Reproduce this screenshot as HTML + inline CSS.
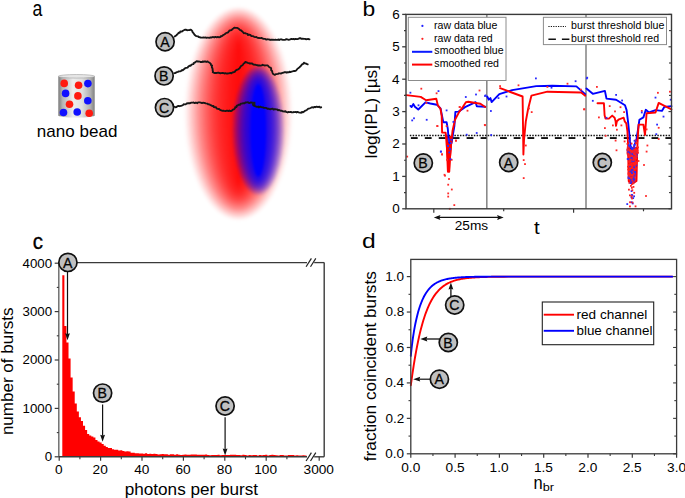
<!DOCTYPE html>
<html><head><meta charset="utf-8"><title>figure</title>
<style>
html,body{margin:0;padding:0;background:#fff;}
body{width:685px;height:498px;overflow:hidden;position:relative;font-family:"Liberation Sans",sans-serif;}
svg{position:absolute;left:0;top:0;font-family:"Liberation Sans",sans-serif;}
</style></head><body>
<svg width="685" height="498" viewBox="0 0 685 498">
<text x="32.39" y="16.10" font-size="21.5" fill="#000"  textLength="9.83" lengthAdjust="spacingAndGlyphs">a</text>
<defs>
<linearGradient id="cyl" x1="0" x2="1" y1="0" y2="0">
<stop offset="0" stop-color="#7a7a7a"/><stop offset="0.12" stop-color="#b5b5b5"/><stop offset="0.4" stop-color="#ededed"/>
<stop offset="0.65" stop-color="#e0e0e0"/><stop offset="0.88" stop-color="#b0b0b0"/><stop offset="1" stop-color="#808080"/></linearGradient>
<filter id="bl1" x="-20%" y="-20%" width="140%" height="140%"><feGaussianBlur stdDeviation="1.2"/></filter>
<filter id="bl2" x="-20%" y="-20%" width="140%" height="140%"><feGaussianBlur stdDeviation="1.0"/></filter>
</defs>
<path d="M58.3,76.3 L58.3,115.6 A18.2,1.9 0 0 0 94.7,115.6 L94.7,76.3 Z" fill="url(#cyl)"/>
<ellipse cx="76.5" cy="76.3" rx="18.2" ry="1.8" fill="#e6e6e6" stroke="#a0a0a0" stroke-width="0.6"/>
<circle cx="64.2" cy="83.4" r="3.8" fill="#ff1a10"/>
<circle cx="78.6" cy="85.3" r="3.8" fill="#ff1a10"/>
<circle cx="77.9" cy="95.9" r="3.8" fill="#ff1a10"/>
<circle cx="69.5" cy="104.3" r="3.8" fill="#ff1a10"/>
<circle cx="89.2" cy="113.2" r="3.8" fill="#ff1a10"/>
<circle cx="87.9" cy="83.6" r="3.8" fill="#1010ff"/>
<circle cx="65.6" cy="93.4" r="3.8" fill="#1010ff"/>
<circle cx="87.8" cy="100.7" r="3.8" fill="#1010ff"/>
<circle cx="63.5" cy="112.5" r="3.8" fill="#1010ff"/>
<circle cx="77.2" cy="112" r="3.8" fill="#1010ff"/>
<text x="36.89" y="136.50" font-size="17" fill="#000"  textLength="80.55" lengthAdjust="spacingAndGlyphs">nano bead</text>
<g filter="url(#bl1)"><ellipse cx="238.5" cy="113.5" rx="55.50" ry="108.00" fill="#ff0000" fill-opacity="0.0173"/><ellipse cx="238.5" cy="113.5" rx="52.90" ry="106.00" fill="#ff0000" fill-opacity="0.0619"/><ellipse cx="238.5" cy="113.5" rx="50.30" ry="104.00" fill="#ff0000" fill-opacity="0.0815"/><ellipse cx="238.5" cy="113.5" rx="47.70" ry="102.00" fill="#ff0000" fill-opacity="0.0953"/><ellipse cx="238.5" cy="113.5" rx="45.10" ry="100.00" fill="#ff0000" fill-opacity="0.1063"/><ellipse cx="238.5" cy="113.5" rx="42.50" ry="98.00" fill="#ff0000" fill-opacity="0.1157"/><ellipse cx="238.5" cy="113.5" rx="39.90" ry="96.00" fill="#ff0000" fill-opacity="0.1239"/><ellipse cx="238.5" cy="113.5" rx="37.30" ry="94.00" fill="#ff0000" fill-opacity="0.1312"/><ellipse cx="238.5" cy="113.5" rx="34.70" ry="92.00" fill="#ff0000" fill-opacity="0.1379"/><ellipse cx="238.5" cy="113.5" rx="32.10" ry="90.00" fill="#ff0000" fill-opacity="0.1440"/><ellipse cx="238.5" cy="113.5" rx="29.50" ry="88.00" fill="#ff0000" fill-opacity="0.1498"/><ellipse cx="238.5" cy="113.5" rx="26.90" ry="86.00" fill="#ff0000" fill-opacity="0.1551"/><ellipse cx="238.5" cy="113.5" rx="24.30" ry="84.00" fill="#ff0000" fill-opacity="0.1601"/><ellipse cx="238.5" cy="113.5" rx="21.70" ry="82.00" fill="#ff0000" fill-opacity="0.1649"/><ellipse cx="238.5" cy="113.5" rx="19.10" ry="80.00" fill="#ff0000" fill-opacity="0.1694"/><ellipse cx="238.5" cy="113.5" rx="16.50" ry="78.00" fill="#ff0000" fill-opacity="0.1737"/><ellipse cx="238.5" cy="113.5" rx="13.90" ry="76.00" fill="#ff0000" fill-opacity="0.1778"/><ellipse cx="238.5" cy="113.5" rx="11.30" ry="74.00" fill="#ff0000" fill-opacity="0.1818"/><ellipse cx="238.5" cy="113.5" rx="8.70" ry="72.00" fill="#ff0000" fill-opacity="0.1856"/><ellipse cx="238.5" cy="113.5" rx="6.10" ry="70.00" fill="#ff0000" fill-opacity="0.1892"/><ellipse cx="238.5" cy="113.5" rx="3.50" ry="68.00" fill="#ff0000" fill-opacity="0.1927"/><ellipse cx="238.5" cy="113.5" rx="0.90" ry="66.00" fill="#ff0000" fill-opacity="0.1961"/></g>
<g filter="url(#bl2)"><ellipse cx="258.3" cy="130.3" rx="27.30" ry="65.80" fill="#0000ff" fill-opacity="0.0437"/><ellipse cx="258.3" cy="130.3" rx="25.80" ry="64.30" fill="#0000ff" fill-opacity="0.1151"/><ellipse cx="258.3" cy="130.3" rx="24.30" ry="62.80" fill="#0000ff" fill-opacity="0.1317"/><ellipse cx="258.3" cy="130.3" rx="22.80" ry="61.30" fill="#0000ff" fill-opacity="0.1421"/><ellipse cx="258.3" cy="130.3" rx="21.30" ry="59.80" fill="#0000ff" fill-opacity="0.1499"/><ellipse cx="258.3" cy="130.3" rx="19.80" ry="58.30" fill="#0000ff" fill-opacity="0.1562"/><ellipse cx="258.3" cy="130.3" rx="18.30" ry="56.80" fill="#0000ff" fill-opacity="0.1616"/><ellipse cx="258.3" cy="130.3" rx="16.80" ry="55.30" fill="#0000ff" fill-opacity="0.1662"/><ellipse cx="258.3" cy="130.3" rx="15.30" ry="53.80" fill="#0000ff" fill-opacity="0.1703"/><ellipse cx="258.3" cy="130.3" rx="13.80" ry="52.30" fill="#0000ff" fill-opacity="0.1740"/><ellipse cx="258.3" cy="130.3" rx="12.30" ry="50.80" fill="#0000ff" fill-opacity="0.1773"/><ellipse cx="258.3" cy="130.3" rx="10.80" ry="49.30" fill="#0000ff" fill-opacity="0.1804"/><ellipse cx="258.3" cy="130.3" rx="9.30" ry="47.80" fill="#0000ff" fill-opacity="0.1833"/><ellipse cx="258.3" cy="130.3" rx="7.80" ry="46.30" fill="#0000ff" fill-opacity="1.0000"/></g>
<polyline points="174.64,36.49 175.78,35.69 176.52,35.22 176.93,34.62 177.76,33.83 178.63,32.79 179.79,32.72 180.36,31.45 181.89,31.65 182.92,30.71 184.35,29.94 185.32,29.71 185.78,29.61 187.03,30.28 188.01,30.12 189.53,29.99 190.54,29.76 191.20,29.94 192.31,31.06 192.53,32.13 193.21,32.79 194.06,34.08 194.54,34.80 195.76,35.90 196.91,36.21 198.23,36.33 198.83,37.18 199.69,37.22 200.69,37.65 202.36,37.57 203.48,37.33 204.34,37.58 205.25,37.46 206.51,37.90 207.20,37.65 207.84,37.68 209.39,37.94 210.57,37.31 211.20,37.65 211.96,37.38 213.18,36.98 214.17,37.48 215.32,36.92 216.64,37.40 217.45,36.93 218.96,37.23 220.29,37.13 220.70,36.28 221.67,36.27 223.11,35.17 223.31,34.80 224.26,34.59 225.41,33.76 225.71,33.27 226.87,32.77 228.22,32.26 228.66,31.56 229.63,30.43 230.66,30.45 231.74,29.92 232.40,29.01 233.24,28.67 234.31,27.61 235.64,27.86 236.96,27.93 237.85,28.19 239.09,29.08 240.17,30.24 241.43,30.31 241.83,31.21 242.65,31.74 243.81,33.24 244.44,33.15 245.06,33.18 246.26,33.69 247.66,33.96 247.90,35.04 249.33,34.68 250.36,34.89 251.38,36.06 252.70,36.11 253.19,36.13 254.13,36.81 255.48,37.13 256.32,36.94 257.78,37.94 258.87,37.99 259.89,38.14 260.40,38.15 261.57,37.92 262.33,38.35 263.58,38.93 265.26,38.92 266.29,39.62 267.36,39.27 267.75,39.35 268.77,39.33 270.19,39.96 271.42,39.58 272.29,39.87 272.82,39.74 274.60,39.85 275.50,39.58 276.02,39.86 277.20,39.87 278.81,39.51 279.34,40.00 280.67,39.30 281.17,39.29 282.91,39.88 283.26,39.89 285.05,39.74 285.53,39.64 286.37,39.16 288.12,39.66 288.72,39.83 289.64,39.70 290.99,39.03 291.48,39.02 292.47,39.21 293.48,38.98 294.37,39.34 295.57,38.86 296.78,39.18 297.63,39.11 298.70,38.69 299.72,38.15 300.65,38.21 301.35,38.87 302.61,38.68 304.20,38.85 304.94,38.92 306.25,39.26 306.95,39.15 308.17,39.00 309.50,39.30" fill="none" stroke="#161616" stroke-width="1.85" stroke-linejoin="round" stroke-linecap="round" />
<polyline points="174.35,73.21 175.11,73.07 176.37,72.43 177.05,72.12 177.91,71.93 178.81,71.43 179.78,71.44 180.93,71.02 182.10,70.10 182.70,70.36 183.91,69.27 184.23,68.95 185.15,68.17 186.12,67.95 187.72,67.56 188.12,66.79 189.54,65.68 190.66,65.87 190.97,65.31 192.05,64.34 193.49,64.10 193.66,63.19 194.89,62.56 195.51,61.99 196.90,61.17 197.81,61.55 198.39,61.45 200.00,61.61 200.56,62.04 202.28,62.02 202.73,61.39 203.73,61.85 205.00,61.27 206.20,61.97 207.62,61.38 208.08,61.98 209.18,62.50 209.47,62.64 210.73,63.69 210.90,64.87 212.12,65.47 211.78,66.56 211.92,67.61 212.43,68.18 212.68,69.76 212.58,70.08 212.97,71.22 212.75,72.20 213.65,72.58 214.83,73.02 216.28,73.01 217.10,72.91 218.01,72.77 218.98,72.76 220.46,73.25 221.02,73.18 222.74,72.85 223.69,73.14 224.45,73.50 225.40,73.21 226.72,73.63 227.46,73.50 228.84,73.32 229.61,73.06 230.35,72.87 231.41,73.42 232.55,72.30 233.36,72.31 235.03,71.55 235.47,70.57 236.45,70.16 237.29,69.55 238.21,69.29 239.67,68.18 239.83,67.83 240.71,66.55 241.25,65.84 242.50,65.22 243.07,64.49 243.71,63.55 244.61,62.94 245.39,61.87 246.61,62.31 247.84,62.83 248.98,63.19 249.93,63.64 250.62,63.39 252.14,63.48 253.06,64.21 253.61,64.66 255.53,64.75 256.55,65.20 257.18,65.22 258.55,65.50 259.86,65.49 260.71,65.55 261.84,65.37 262.48,64.78 263.44,65.07 264.46,65.50 265.91,65.31 267.01,65.36 267.82,65.48 269.02,66.87 269.68,67.41 270.74,67.71 271.23,68.94 271.06,70.01 272.07,71.01 272.50,72.77 272.69,73.29 273.58,74.27 274.74,74.91 275.72,74.17 276.36,74.08 277.98,73.87 278.91,73.36 279.54,73.34 281.18,73.47 282.27,72.86 283.21,72.77 284.23,72.29 285.68,72.20 286.82,72.70 287.02,72.11 288.81,72.40 289.54,71.61 290.38,72.06 291.45,71.56 292.45,71.35 294.24,70.83 295.19,71.01 296.19,70.48 296.54,69.96 297.71,68.47 298.21,68.19 299.56,67.32 299.94,66.58 300.77,66.24 301.15,65.38 302.57,64.02 303.32,63.78 303.96,62.61 304.51,63.08 306.10,63.63 306.55,63.86 307.70,64.30" fill="none" stroke="#161616" stroke-width="1.85" stroke-linejoin="round" stroke-linecap="round" />
<polyline points="174.60,106.79 175.42,107.22 176.56,107.04 177.51,106.16 178.72,105.81 179.57,106.22 181.01,105.81 181.76,105.63 183.02,105.02 183.80,104.29 184.85,104.38 185.91,104.29 186.54,103.48 188.16,103.28 188.79,103.20 189.68,103.29 191.33,102.58 192.05,102.62 192.97,102.70 193.62,102.50 194.67,103.17 195.94,102.55 197.31,103.25 197.91,102.48 198.68,102.43 199.83,102.43 200.74,102.58 202.05,103.15 203.22,102.72 203.92,102.82 204.93,103.03 205.69,103.34 207.55,103.58 208.17,104.40 209.54,104.40 210.05,104.80 211.21,105.35 212.64,106.18 213.49,105.90 213.66,106.98 215.37,107.23 216.01,107.27 216.77,108.57 218.08,108.97 219.14,108.88 219.29,109.26 220.59,110.20 221.90,110.70 222.66,110.79 223.52,110.65 224.18,110.90 225.38,111.08 226.78,110.57 227.35,110.58 228.83,111.03 229.39,110.51 230.79,111.02 231.70,110.75 232.62,109.86 233.07,109.56 234.39,109.03 235.05,108.18 235.19,107.27 236.56,106.98 236.70,105.67 237.60,105.56 238.63,104.76 239.95,104.93 240.65,103.71 241.85,103.63 243.31,103.13 244.57,103.32 245.45,102.53 247.02,102.33 247.97,102.29 248.52,102.80 249.67,103.01 250.93,102.35 251.77,102.59 253.25,103.10 253.02,103.64 253.31,105.19 253.48,105.40 254.45,105.92 256.24,106.58 257.13,106.90 258.36,106.51 258.73,107.28 260.27,106.68 261.24,107.21 262.02,107.38 262.88,107.30 264.02,107.83 265.67,107.84 266.72,108.14 267.22,108.82 268.69,108.60 269.04,108.77 270.39,109.30 271.27,108.93 272.96,108.76 273.57,109.59 274.94,109.03 275.33,109.18 277.18,109.48 278.07,110.30 278.76,109.98 280.36,110.53 280.79,110.85 281.88,110.70 282.65,111.37 284.52,111.50 285.60,111.19 286.01,111.84 287.71,112.51 288.25,111.89 289.34,112.12 290.85,111.85 291.79,112.37 292.86,112.41 293.72,112.03 294.51,112.07 295.98,111.83 296.51,112.45 297.61,111.84 298.47,112.29 299.78,112.69 301.34,112.71 301.84,111.91 302.74,112.30 304.26,111.53 304.81,110.78 306.13,110.28 307.22,109.71 308.30,108.63 309.61,108.36 310.51,108.01 311.81,107.43 312.35,107.25 313.24,107.60 314.60,106.87 315.41,107.24 316.65,106.66 318.06,107.14 319.36,106.74 320.04,107.49 321.20,107.30" fill="none" stroke="#161616" stroke-width="1.85" stroke-linejoin="round" stroke-linecap="round" />
<rect x="252" y="101.8" width="3.4" height="3.4" fill="#1c1c1c"/>
<circle cx="165.10" cy="41.70" r="9.1" fill="#c0c0c0" stroke="#111" stroke-width="1.7"/>
<text x="160.20" y="46.94" font-size="15.2" fill="#000" stroke="#111" stroke-width="0.3" textLength="9.43" lengthAdjust="spacingAndGlyphs">A</text>
<circle cx="164.10" cy="75.90" r="9.1" fill="#c0c0c0" stroke="#111" stroke-width="1.7"/>
<text x="158.99" y="81.14" font-size="15.2" fill="#000" stroke="#111" stroke-width="0.3" textLength="9.43" lengthAdjust="spacingAndGlyphs">B</text>
<circle cx="164.50" cy="107.60" r="9.1" fill="#c0c0c0" stroke="#111" stroke-width="1.7"/>
<text x="159.11" y="112.84" font-size="15.2" fill="#000" stroke="#111" stroke-width="0.3" textLength="10.21" lengthAdjust="spacingAndGlyphs">C</text>
<text x="362.51" y="16.00" font-size="21" fill="#000"  textLength="12.73" lengthAdjust="spacingAndGlyphs">b</text>
<line x1="486.80" y1="14.40" x2="486.80" y2="208.80" stroke="#8a8a8a" stroke-width="1.6" />
<line x1="586.00" y1="14.40" x2="586.00" y2="208.80" stroke="#8a8a8a" stroke-width="1.6" />
<rect x="408.3" y="17.3" width="97.7" height="63.2" fill="#fff" stroke="#8c8c8c" stroke-width="1"/>
<rect x="543.4" y="17.3" width="123.1" height="27.3" fill="#fff" stroke="#8c8c8c" stroke-width="1"/>
<circle cx="422.4" cy="25.9" r="1.1" fill="#2020ff"/>
<circle cx="422.4" cy="38.8" r="1.1" fill="#ff2020"/>
<line x1="412.00" y1="51.80" x2="432.30" y2="51.80" stroke="#0a1aff" stroke-width="2" />
<line x1="412.00" y1="64.60" x2="432.30" y2="64.60" stroke="#ff0000" stroke-width="2" />
<text x="434.01" y="28.90" font-size="10.0" fill="#000"  textLength="63.34" lengthAdjust="spacingAndGlyphs">raw data blue</text>
<text x="434.01" y="41.60" font-size="10.0" fill="#000"  textLength="58.64" lengthAdjust="spacingAndGlyphs">raw data red</text>
<text x="434.38" y="54.30" font-size="10.0" fill="#000"  textLength="69.21" lengthAdjust="spacingAndGlyphs">smoothed blue</text>
<text x="434.38" y="67.00" font-size="10.0" fill="#000"  textLength="64.51" lengthAdjust="spacingAndGlyphs">smoothed red</text>
<line x1="548.40" y1="26.50" x2="566.00" y2="26.50" stroke="#111" stroke-width="1.2" stroke-dasharray="1.2 1.2"/>
<line x1="548.40" y1="39.20" x2="570.50" y2="39.20" stroke="#111" stroke-width="1.6" stroke-dasharray="7.5 6"/>
<text x="571.11" y="28.90" font-size="10.0" fill="#000"  textLength="93.31" lengthAdjust="spacingAndGlyphs">burst threshold blue</text>
<text x="571.11" y="42.30" font-size="10.0" fill="#000"  textLength="87.97" lengthAdjust="spacingAndGlyphs">burst threshold red</text>
<line x1="409.90" y1="135.50" x2="671.50" y2="135.50" stroke="#111" stroke-width="1.4" stroke-dasharray="1.5 1.28"/>
<rect x="410.90" y="137.1" width="6.80" height="1.9" fill="#111"/>
<rect x="424.83" y="137.1" width="6.80" height="1.9" fill="#111"/>
<rect x="438.76" y="137.1" width="6.80" height="1.9" fill="#111"/>
<rect x="452.69" y="137.1" width="6.80" height="1.9" fill="#111"/>
<rect x="466.62" y="137.1" width="6.80" height="1.9" fill="#111"/>
<rect x="480.60" y="137.1" width="4.80" height="1.9" fill="#111"/>
<rect x="485.00" y="137.1" width="1.50" height="1.9" fill="#111"/>
<rect x="500.00" y="137.1" width="6.80" height="1.9" fill="#111"/>
<rect x="513.72" y="137.1" width="6.80" height="1.9" fill="#111"/>
<rect x="527.44" y="137.1" width="6.80" height="1.9" fill="#111"/>
<rect x="541.16" y="137.1" width="6.80" height="1.9" fill="#111"/>
<rect x="554.88" y="137.1" width="6.80" height="1.9" fill="#111"/>
<rect x="568.60" y="137.1" width="6.80" height="1.9" fill="#111"/>
<rect x="583.10" y="137.1" width="2.50" height="1.9" fill="#111"/>
<rect x="596.00" y="137.1" width="6.80" height="1.9" fill="#111"/>
<rect x="609.88" y="137.1" width="6.80" height="1.9" fill="#111"/>
<rect x="623.76" y="137.1" width="6.80" height="1.9" fill="#111"/>
<rect x="637.64" y="137.1" width="6.80" height="1.9" fill="#111"/>
<rect x="651.52" y="137.1" width="6.80" height="1.9" fill="#111"/>
<rect x="665.40" y="137.1" width="5.80" height="1.9" fill="#111"/>
<polygon points="445.3,136 452.8,136 451.6,150 450.3,165 449.8,172.5 447.4,172.5 446.9,160 446,148" fill="#ff0000"/>
<polygon points="627.3,147 638.6,147 637.4,160 635.2,182 628.3,182 627.8,160" fill="#ff1818"/>
<polyline points="410.40,105.90 411.60,107.10 413.40,104.10 414.90,106.70 418.30,109.50 425.50,102.30 430.30,103.50 436.90,104.70 440.50,108.30 441.70,114.30 443.30,122.20 446.60,122.20 447.80,128.80 448.60,139.00 449.50,143.00 451.50,143.00 452.60,136.60 454.40,125.80 455.40,111.90 458.60,111.60 465.00,107.10 475.60,102.20 476.80,106.20 485.20,106.70" fill="none" stroke="#0000ff" stroke-width="1.9" stroke-linejoin="round" stroke-linecap="round" />
<polyline points="487.20,96.50 488.80,99.70 490.40,98.10 491.60,102.10 499.30,94.10 512.10,90.10 536.20,86.10 552.30,85.70 576.40,86.40 585.20,94.10" fill="none" stroke="#0000ff" stroke-width="1.9" stroke-linejoin="round" stroke-linecap="round" />
<polyline points="586.40,88.50 592.80,93.80 604.90,90.90 606.50,98.60 616.10,99.70 625.00,105.30 626.60,110.10 628.20,123.00 629.80,139.00 631.00,150.00 633.00,150.00 636.50,139.00 637.80,131.00 639.40,119.80 643.40,117.40 645.80,109.80 649.00,112.50 655.50,110.10 661.90,110.90 664.30,106.90 671.50,106.10" fill="none" stroke="#0000ff" stroke-width="1.9" stroke-linejoin="round" stroke-linecap="round" />
<polyline points="406.20,95.10 420.70,96.90 426.10,100.20 436.30,98.70 437.80,105.30 440.50,108.90 441.70,116.10 442.10,132.50 445.60,132.60 446.60,140.00 447.20,155.00 447.90,171.50 449.30,171.50 449.80,160.00 451.00,145.00 452.50,131.00 455.00,119.80 459.20,111.90 462.80,107.10 465.90,102.20 468.30,101.70 475.60,103.00 480.40,103.80 485.20,107.00" fill="none" stroke="#ff0000" stroke-width="1.9" stroke-linejoin="round" stroke-linecap="round" />
<polyline points="500.10,88.20 522.60,96.50 523.00,125.00 523.40,154.50 524.00,140.00 525.80,121.40 528.20,108.50 531.40,95.70 547.40,91.70 581.20,92.50 585.20,95.70" fill="none" stroke="#ff0000" stroke-width="1.9" stroke-linejoin="round" stroke-linecap="round" />
<polyline points="597.50,103.20 603.90,103.20 604.60,115.30 605.50,118.60 608.90,118.60 612.20,115.60 614.60,117.70 615.60,121.30 616.00,125.80 616.90,121.30 619.00,119.30 623.70,117.70 624.70,121.30 626.30,123.30 627.40,131.00 628.20,147.00 628.70,181.00 632.00,184.00 636.50,181.00 637.20,150.00 637.80,137.40 638.60,124.60 643.40,124.60 645.00,135.00 646.60,113.30 655.50,112.50 658.70,102.90 663.50,105.30 671.50,109.30" fill="none" stroke="#ff0000" stroke-width="1.9" stroke-linejoin="round" stroke-linecap="round" />
<rect x="478.60" y="89.60" width="1.8" height="1.8" fill="#ff2a2a"/>
<rect x="466.60" y="109.80" width="1.8" height="1.8" fill="#ff2a2a"/>
<rect x="458.70" y="106.10" width="1.8" height="1.8" fill="#ff2a2a"/>
<rect x="484.10" y="124.30" width="1.8" height="1.8" fill="#ff2a2a"/>
<rect x="445.70" y="125.20" width="1.8" height="1.8" fill="#ff2a2a"/>
<rect x="420.40" y="87.80" width="1.8" height="1.8" fill="#ff2a2a"/>
<rect x="435.70" y="92.40" width="1.8" height="1.8" fill="#ff2a2a"/>
<rect x="436.60" y="125.20" width="1.8" height="1.8" fill="#ff2a2a"/>
<rect x="458.90" y="106.20" width="1.8" height="1.8" fill="#ff2a2a"/>
<rect x="425.50" y="102.00" width="1.8" height="1.8" fill="#ff2a2a"/>
<rect x="436.30" y="125.10" width="1.8" height="1.8" fill="#ff2a2a"/>
<rect x="455.00" y="139.60" width="1.8" height="1.8" fill="#ff2a2a"/>
<rect x="441.10" y="153.40" width="1.8" height="1.8" fill="#ff2a2a"/>
<rect x="443.60" y="173.90" width="1.8" height="1.8" fill="#ff2a2a"/>
<rect x="444.10" y="174.80" width="1.8" height="1.8" fill="#ff2a2a"/>
<rect x="448.10" y="178.10" width="1.8" height="1.8" fill="#ff2a2a"/>
<rect x="450.80" y="158.90" width="1.8" height="1.8" fill="#ff2a2a"/>
<rect x="446.00" y="158.90" width="1.8" height="1.8" fill="#ff2a2a"/>
<rect x="447.30" y="183.80" width="1.8" height="1.8" fill="#ff2a2a"/>
<rect x="450.90" y="188.60" width="1.8" height="1.8" fill="#ff2a2a"/>
<rect x="447.30" y="192.50" width="1.8" height="1.8" fill="#ff2a2a"/>
<rect x="447.30" y="195.70" width="1.8" height="1.8" fill="#ff2a2a"/>
<rect x="453.40" y="204.20" width="1.8" height="1.8" fill="#ff2a2a"/>
<rect x="406.30" y="155.70" width="1.8" height="1.8" fill="#ff2a2a"/>
<rect x="441.20" y="153.60" width="1.8" height="1.8" fill="#ff2a2a"/>
<rect x="448.90" y="207.90" width="1.8" height="1.8" fill="#ff2a2a"/>
<rect x="455.10" y="139.90" width="1.8" height="1.8" fill="#ff2a2a"/>
<rect x="517.60" y="84.40" width="1.8" height="1.8" fill="#ff2a2a"/>
<rect x="499.20" y="85.20" width="1.8" height="1.8" fill="#ff2a2a"/>
<rect x="566.60" y="82.80" width="1.8" height="1.8" fill="#ff2a2a"/>
<rect x="546.50" y="86.00" width="1.8" height="1.8" fill="#ff2a2a"/>
<rect x="530.80" y="111.20" width="1.8" height="1.8" fill="#ff2a2a"/>
<rect x="528.10" y="107.60" width="1.8" height="1.8" fill="#ff2a2a"/>
<rect x="483.90" y="124.00" width="1.8" height="1.8" fill="#ff2a2a"/>
<rect x="583.50" y="108.40" width="1.8" height="1.8" fill="#ff2a2a"/>
<rect x="580.00" y="88.70" width="1.8" height="1.8" fill="#ff2a2a"/>
<rect x="524.90" y="144.60" width="1.8" height="1.8" fill="#ff2a2a"/>
<rect x="522.80" y="159.20" width="1.8" height="1.8" fill="#ff2a2a"/>
<rect x="524.10" y="163.20" width="1.8" height="1.8" fill="#ff2a2a"/>
<rect x="522.80" y="177.20" width="1.8" height="1.8" fill="#ff2a2a"/>
<rect x="596.00" y="86.00" width="1.8" height="1.8" fill="#ff2a2a"/>
<rect x="657.00" y="91.90" width="1.8" height="1.8" fill="#ff2a2a"/>
<rect x="669.00" y="90.80" width="1.8" height="1.8" fill="#ff2a2a"/>
<rect x="583.10" y="108.40" width="1.8" height="1.8" fill="#ff2a2a"/>
<rect x="608.80" y="105.20" width="1.8" height="1.8" fill="#ff2a2a"/>
<rect x="598.00" y="116.50" width="1.8" height="1.8" fill="#ff2a2a"/>
<rect x="614.10" y="110.50" width="1.8" height="1.8" fill="#ff2a2a"/>
<rect x="619.60" y="106.30" width="1.8" height="1.8" fill="#ff2a2a"/>
<rect x="623.20" y="111.20" width="1.8" height="1.8" fill="#ff2a2a"/>
<rect x="620.50" y="124.50" width="1.8" height="1.8" fill="#ff2a2a"/>
<rect x="612.00" y="124.50" width="1.8" height="1.8" fill="#ff2a2a"/>
<rect x="604.00" y="127.20" width="1.8" height="1.8" fill="#ff2a2a"/>
<rect x="616.00" y="128.80" width="1.8" height="1.8" fill="#ff2a2a"/>
<rect x="604.80" y="134.90" width="1.8" height="1.8" fill="#ff2a2a"/>
<rect x="614.70" y="139.70" width="1.8" height="1.8" fill="#ff2a2a"/>
<rect x="623.70" y="140.50" width="1.8" height="1.8" fill="#ff2a2a"/>
<rect x="646.50" y="144.60" width="1.8" height="1.8" fill="#ff2a2a"/>
<rect x="657.80" y="138.10" width="1.8" height="1.8" fill="#ff2a2a"/>
<rect x="657.80" y="126.90" width="1.8" height="1.8" fill="#ff2a2a"/>
<rect x="640.90" y="110.00" width="1.8" height="1.8" fill="#ff2a2a"/>
<rect x="645.70" y="128.50" width="1.8" height="1.8" fill="#ff2a2a"/>
<rect x="615.60" y="149.40" width="1.8" height="1.8" fill="#ff2a2a"/>
<rect x="645.70" y="150.70" width="1.8" height="1.8" fill="#ff2a2a"/>
<rect x="645.10" y="195.10" width="1.8" height="1.8" fill="#ff2a2a"/>
<rect x="637.60" y="160.10" width="1.8" height="1.8" fill="#ff2a2a"/>
<rect x="643.10" y="164.10" width="1.8" height="1.8" fill="#ff2a2a"/>
<rect x="448.10" y="140.10" width="1.8" height="1.8" fill="#2a2aff"/>
<rect x="449.70" y="142.30" width="1.8" height="1.8" fill="#2a2aff"/>
<rect x="447.20" y="145.10" width="1.8" height="1.8" fill="#2a2aff"/>
<rect x="449.30" y="148.40" width="1.8" height="1.8" fill="#2a2aff"/>
<rect x="448.40" y="151.50" width="1.8" height="1.8" fill="#2a2aff"/>
<rect x="447.70" y="138.30" width="1.8" height="1.8" fill="#2a2aff"/>
<rect x="450.50" y="138.90" width="1.8" height="1.8" fill="#2a2aff"/>
<rect x="475.10" y="93.60" width="1.8" height="1.8" fill="#2a2aff"/>
<rect x="464.90" y="96.10" width="1.8" height="1.8" fill="#2a2aff"/>
<rect x="484.10" y="95.10" width="1.8" height="1.8" fill="#2a2aff"/>
<rect x="475.80" y="132.10" width="1.8" height="1.8" fill="#2a2aff"/>
<rect x="452.50" y="121.00" width="1.8" height="1.8" fill="#2a2aff"/>
<rect x="409.50" y="91.80" width="1.8" height="1.8" fill="#2a2aff"/>
<rect x="437.60" y="90.20" width="1.8" height="1.8" fill="#2a2aff"/>
<rect x="411.30" y="119.50" width="1.8" height="1.8" fill="#2a2aff"/>
<rect x="413.10" y="117.40" width="1.8" height="1.8" fill="#2a2aff"/>
<rect x="425.80" y="118.90" width="1.8" height="1.8" fill="#2a2aff"/>
<rect x="445.70" y="109.50" width="1.8" height="1.8" fill="#2a2aff"/>
<rect x="417.60" y="104.40" width="1.8" height="1.8" fill="#2a2aff"/>
<rect x="439.90" y="150.70" width="1.8" height="1.8" fill="#2a2aff"/>
<rect x="465.80" y="133.80" width="1.8" height="1.8" fill="#2a2aff"/>
<rect x="449.60" y="158.30" width="1.8" height="1.8" fill="#2a2aff"/>
<rect x="449.00" y="148.00" width="1.8" height="1.8" fill="#2a2aff"/>
<rect x="447.10" y="145.00" width="1.8" height="1.8" fill="#2a2aff"/>
<rect x="440.10" y="150.70" width="1.8" height="1.8" fill="#2a2aff"/>
<rect x="535.00" y="77.50" width="1.8" height="1.8" fill="#2a2aff"/>
<rect x="574.70" y="80.30" width="1.8" height="1.8" fill="#2a2aff"/>
<rect x="497.60" y="97.20" width="1.8" height="1.8" fill="#2a2aff"/>
<rect x="505.60" y="95.60" width="1.8" height="1.8" fill="#2a2aff"/>
<rect x="490.00" y="110.10" width="1.8" height="1.8" fill="#2a2aff"/>
<rect x="490.30" y="134.10" width="1.8" height="1.8" fill="#2a2aff"/>
<rect x="550.60" y="86.80" width="1.8" height="1.8" fill="#2a2aff"/>
<rect x="484.70" y="94.50" width="1.8" height="1.8" fill="#2a2aff"/>
<rect x="585.90" y="77.50" width="1.8" height="1.8" fill="#2a2aff"/>
<rect x="586.30" y="76.80" width="1.8" height="1.8" fill="#2a2aff"/>
<rect x="615.20" y="94.00" width="1.8" height="1.8" fill="#2a2aff"/>
<rect x="621.20" y="99.60" width="1.8" height="1.8" fill="#2a2aff"/>
<rect x="591.90" y="99.90" width="1.8" height="1.8" fill="#2a2aff"/>
<rect x="654.60" y="96.70" width="1.8" height="1.8" fill="#2a2aff"/>
<rect x="662.60" y="115.70" width="1.8" height="1.8" fill="#2a2aff"/>
<rect x="669.80" y="98.80" width="1.8" height="1.8" fill="#2a2aff"/>
<rect x="656.20" y="123.70" width="1.8" height="1.8" fill="#2a2aff"/>
<rect x="640.90" y="111.60" width="1.8" height="1.8" fill="#2a2aff"/>
<rect x="655.40" y="133.30" width="1.8" height="1.8" fill="#2a2aff"/>
<rect x="605.60" y="116.90" width="1.8" height="1.8" fill="#2a2aff"/>
<rect x="633.20" y="195.42" width="1.8" height="1.8" fill="#2a2aff"/>
<rect x="636.83" y="151.80" width="1.8" height="1.8" fill="#ff2020"/>
<rect x="634.42" y="156.52" width="1.8" height="1.8" fill="#ff2020"/>
<rect x="633.13" y="146.19" width="1.8" height="1.8" fill="#ff2020"/>
<rect x="630.42" y="153.68" width="1.8" height="1.8" fill="#2a2aff"/>
<rect x="629.25" y="152.77" width="1.8" height="1.8" fill="#ff2020"/>
<rect x="628.72" y="160.02" width="1.8" height="1.8" fill="#ff2020"/>
<rect x="627.72" y="175.82" width="1.8" height="1.8" fill="#2a2aff"/>
<rect x="631.76" y="165.58" width="1.8" height="1.8" fill="#ff2020"/>
<rect x="629.73" y="158.08" width="1.8" height="1.8" fill="#ff2020"/>
<rect x="632.16" y="160.03" width="1.8" height="1.8" fill="#ff2020"/>
<rect x="634.39" y="167.00" width="1.8" height="1.8" fill="#ff2020"/>
<rect x="628.67" y="163.47" width="1.8" height="1.8" fill="#ff2020"/>
<rect x="626.65" y="152.75" width="1.8" height="1.8" fill="#ff2020"/>
<rect x="633.97" y="167.49" width="1.8" height="1.8" fill="#ff2020"/>
<rect x="626.67" y="149.99" width="1.8" height="1.8" fill="#ff2020"/>
<rect x="631.64" y="182.02" width="1.8" height="1.8" fill="#2a2aff"/>
<rect x="629.89" y="180.79" width="1.8" height="1.8" fill="#ff2020"/>
<rect x="629.58" y="148.87" width="1.8" height="1.8" fill="#ff2020"/>
<rect x="633.50" y="171.96" width="1.8" height="1.8" fill="#ff2020"/>
<rect x="627.91" y="152.32" width="1.8" height="1.8" fill="#ff2020"/>
<rect x="630.67" y="142.68" width="1.8" height="1.8" fill="#ff2020"/>
<rect x="632.96" y="180.66" width="1.8" height="1.8" fill="#2a2aff"/>
<rect x="634.30" y="166.20" width="1.8" height="1.8" fill="#ff2020"/>
<rect x="628.86" y="151.36" width="1.8" height="1.8" fill="#ff2020"/>
<rect x="630.13" y="173.80" width="1.8" height="1.8" fill="#2a2aff"/>
<rect x="633.95" y="155.65" width="1.8" height="1.8" fill="#ff2020"/>
<rect x="631.17" y="179.27" width="1.8" height="1.8" fill="#ff2020"/>
<rect x="630.79" y="159.62" width="1.8" height="1.8" fill="#ff2020"/>
<rect x="632.60" y="167.62" width="1.8" height="1.8" fill="#ff2020"/>
<rect x="627.23" y="168.47" width="1.8" height="1.8" fill="#ff2020"/>
<rect x="629.00" y="171.90" width="1.8" height="1.8" fill="#ff2020"/>
<rect x="631.58" y="151.13" width="1.8" height="1.8" fill="#2a2aff"/>
<rect x="631.22" y="147.71" width="1.8" height="1.8" fill="#2a2aff"/>
<rect x="631.29" y="168.71" width="1.8" height="1.8" fill="#2a2aff"/>
<rect x="627.60" y="173.37" width="1.8" height="1.8" fill="#ff2020"/>
<rect x="635.38" y="164.42" width="1.8" height="1.8" fill="#2a2aff"/>
<rect x="630.56" y="196.52" width="1.8" height="1.8" fill="#2a2aff"/>
<rect x="626.35" y="203.19" width="1.8" height="1.8" fill="#2a2aff"/>
<rect x="633.32" y="191.92" width="1.8" height="1.8" fill="#ff2020"/>
<rect x="636.21" y="149.74" width="1.8" height="1.8" fill="#2a2aff"/>
<rect x="634.33" y="172.75" width="1.8" height="1.8" fill="#2a2aff"/>
<rect x="631.72" y="156.71" width="1.8" height="1.8" fill="#ff2020"/>
<rect x="636.62" y="149.90" width="1.8" height="1.8" fill="#ff2020"/>
<rect x="632.02" y="174.66" width="1.8" height="1.8" fill="#ff2020"/>
<rect x="633.59" y="177.96" width="1.8" height="1.8" fill="#2a2aff"/>
<rect x="633.93" y="165.52" width="1.8" height="1.8" fill="#2a2aff"/>
<rect x="633.81" y="163.24" width="1.8" height="1.8" fill="#ff2020"/>
<rect x="634.47" y="150.94" width="1.8" height="1.8" fill="#2a2aff"/>
<rect x="632.07" y="181.93" width="1.8" height="1.8" fill="#ff2020"/>
<rect x="633.20" y="149.11" width="1.8" height="1.8" fill="#ff2020"/>
<rect x="634.08" y="173.45" width="1.8" height="1.8" fill="#2a2aff"/>
<rect x="633.31" y="154.33" width="1.8" height="1.8" fill="#2a2aff"/>
<rect x="630.43" y="146.23" width="1.8" height="1.8" fill="#2a2aff"/>
<rect x="631.49" y="178.20" width="1.8" height="1.8" fill="#2a2aff"/>
<rect x="630.59" y="180.90" width="1.8" height="1.8" fill="#2a2aff"/>
<rect x="627.53" y="149.10" width="1.8" height="1.8" fill="#ff2020"/>
<rect x="629.26" y="166.03" width="1.8" height="1.8" fill="#2a2aff"/>
<rect x="632.77" y="162.57" width="1.8" height="1.8" fill="#ff2020"/>
<rect x="635.74" y="155.75" width="1.8" height="1.8" fill="#2a2aff"/>
<rect x="630.28" y="174.71" width="1.8" height="1.8" fill="#2a2aff"/>
<rect x="626.54" y="143.01" width="1.8" height="1.8" fill="#ff2020"/>
<rect x="632.94" y="152.47" width="1.8" height="1.8" fill="#ff2020"/>
<rect x="629.84" y="150.80" width="1.8" height="1.8" fill="#ff2020"/>
<rect x="635.01" y="142.35" width="1.8" height="1.8" fill="#ff2020"/>
<rect x="634.60" y="139.53" width="1.8" height="1.8" fill="#ff2020"/>
<rect x="627.71" y="154.24" width="1.8" height="1.8" fill="#2a2aff"/>
<rect x="632.18" y="156.92" width="1.8" height="1.8" fill="#ff2020"/>
<rect x="633.05" y="156.87" width="1.8" height="1.8" fill="#ff2020"/>
<rect x="635.69" y="153.64" width="1.8" height="1.8" fill="#2a2aff"/>
<rect x="629.04" y="156.54" width="1.8" height="1.8" fill="#ff2020"/>
<rect x="635.05" y="161.00" width="1.8" height="1.8" fill="#ff2020"/>
<rect x="635.84" y="155.12" width="1.8" height="1.8" fill="#ff2020"/>
<rect x="628.80" y="159.72" width="1.8" height="1.8" fill="#ff2020"/>
<rect x="627.99" y="144.31" width="1.8" height="1.8" fill="#2a2aff"/>
<rect x="636.88" y="146.25" width="1.8" height="1.8" fill="#ff2020"/>
<rect x="626.79" y="148.60" width="1.8" height="1.8" fill="#2a2aff"/>
<rect x="634.27" y="163.45" width="1.8" height="1.8" fill="#ff2020"/>
<rect x="632.26" y="197.24" width="1.8" height="1.8" fill="#2a2aff"/>
<rect x="626.80" y="146.60" width="1.8" height="1.8" fill="#ff2020"/>
<rect x="627.72" y="158.35" width="1.8" height="1.8" fill="#2a2aff"/>
<rect x="630.80" y="160.48" width="1.8" height="1.8" fill="#2a2aff"/>
<rect x="629.51" y="156.30" width="1.8" height="1.8" fill="#ff2020"/>
<rect x="629.79" y="163.76" width="1.8" height="1.8" fill="#ff2020"/>
<rect x="633.79" y="172.85" width="1.8" height="1.8" fill="#ff2020"/>
<rect x="633.51" y="168.34" width="1.8" height="1.8" fill="#ff2020"/>
<rect x="635.51" y="153.61" width="1.8" height="1.8" fill="#2a2aff"/>
<rect x="630.68" y="190.17" width="1.8" height="1.8" fill="#2a2aff"/>
<rect x="631.02" y="171.99" width="1.8" height="1.8" fill="#ff2020"/>
<rect x="631.79" y="151.46" width="1.8" height="1.8" fill="#ff2020"/>
<rect x="633.84" y="153.49" width="1.8" height="1.8" fill="#ff2020"/>
<rect x="633.57" y="146.46" width="1.8" height="1.8" fill="#2a2aff"/>
<rect x="630.53" y="162.93" width="1.8" height="1.8" fill="#ff2020"/>
<rect x="629.33" y="152.91" width="1.8" height="1.8" fill="#ff2020"/>
<rect x="630.12" y="172.68" width="1.8" height="1.8" fill="#ff2020"/>
<rect x="631.33" y="154.75" width="1.8" height="1.8" fill="#ff2020"/>
<rect x="628.28" y="160.99" width="1.8" height="1.8" fill="#ff2020"/>
<rect x="631.23" y="150.46" width="1.8" height="1.8" fill="#ff2020"/>
<rect x="628.21" y="177.90" width="1.8" height="1.8" fill="#ff2020"/>
<rect x="629.74" y="151.94" width="1.8" height="1.8" fill="#ff2020"/>
<rect x="629.18" y="149.55" width="1.8" height="1.8" fill="#ff2020"/>
<rect x="628.43" y="174.09" width="1.8" height="1.8" fill="#ff2020"/>
<rect x="636.85" y="151.78" width="1.8" height="1.8" fill="#ff2020"/>
<rect x="627.52" y="145.92" width="1.8" height="1.8" fill="#ff2020"/>
<rect x="633.27" y="152.24" width="1.8" height="1.8" fill="#2a2aff"/>
<rect x="630.63" y="152.93" width="1.8" height="1.8" fill="#2a2aff"/>
<rect x="633.85" y="165.83" width="1.8" height="1.8" fill="#ff2020"/>
<rect x="632.10" y="172.63" width="1.8" height="1.8" fill="#ff2020"/>
<rect x="633.09" y="148.60" width="1.8" height="1.8" fill="#ff2020"/>
<rect x="628.03" y="188.74" width="1.8" height="1.8" fill="#ff2020"/>
<rect x="628.95" y="167.32" width="1.8" height="1.8" fill="#ff2020"/>
<rect x="632.55" y="186.01" width="1.8" height="1.8" fill="#ff2020"/>
<rect x="632.75" y="160.07" width="1.8" height="1.8" fill="#2a2aff"/>
<rect x="633.67" y="167.21" width="1.8" height="1.8" fill="#ff2020"/>
<rect x="630.88" y="167.48" width="1.8" height="1.8" fill="#ff2020"/>
<rect x="632.80" y="166.53" width="1.8" height="1.8" fill="#ff2020"/>
<rect x="633.49" y="151.37" width="1.8" height="1.8" fill="#ff2020"/>
<rect x="631.25" y="165.14" width="1.8" height="1.8" fill="#ff2020"/>
<rect x="634.95" y="149.88" width="1.8" height="1.8" fill="#ff2020"/>
<rect x="627.97" y="173.89" width="1.8" height="1.8" fill="#ff2020"/>
<rect x="632.58" y="175.35" width="1.8" height="1.8" fill="#ff2020"/>
<rect x="628.45" y="181.93" width="1.8" height="1.8" fill="#ff2020"/>
<rect x="633.70" y="153.18" width="1.8" height="1.8" fill="#ff2020"/>
<rect x="627.08" y="165.88" width="1.8" height="1.8" fill="#ff2020"/>
<rect x="632.95" y="167.28" width="1.8" height="1.8" fill="#ff2020"/>
<rect x="628.93" y="156.87" width="1.8" height="1.8" fill="#ff2020"/>
<rect x="634.87" y="153.77" width="1.8" height="1.8" fill="#ff2020"/>
<rect x="627.94" y="153.30" width="1.8" height="1.8" fill="#ff2020"/>
<rect x="631.64" y="170.53" width="1.8" height="1.8" fill="#2a2aff"/>
<rect x="632.04" y="158.82" width="1.8" height="1.8" fill="#2a2aff"/>
<rect x="629.18" y="164.30" width="1.8" height="1.8" fill="#ff2020"/>
<rect x="626.58" y="151.55" width="1.8" height="1.8" fill="#ff2020"/>
<rect x="629.13" y="157.94" width="1.8" height="1.8" fill="#ff2020"/>
<rect x="630.54" y="171.23" width="1.8" height="1.8" fill="#ff2020"/>
<rect x="630.74" y="201.32" width="1.8" height="1.8" fill="#2a2aff"/>
<rect x="631.40" y="194.57" width="1.8" height="1.8" fill="#ff2020"/>
<rect x="633.62" y="139.87" width="1.8" height="1.8" fill="#2a2aff"/>
<rect x="634.54" y="154.75" width="1.8" height="1.8" fill="#ff2020"/>
<rect x="636.32" y="149.33" width="1.8" height="1.8" fill="#ff2020"/>
<rect x="636.09" y="150.35" width="1.8" height="1.8" fill="#ff2020"/>
<rect x="629.02" y="156.82" width="1.8" height="1.8" fill="#2a2aff"/>
<rect x="627.60" y="172.14" width="1.8" height="1.8" fill="#ff2020"/>
<rect x="631.86" y="148.78" width="1.8" height="1.8" fill="#ff2020"/>
<rect x="633.68" y="175.25" width="1.8" height="1.8" fill="#2a2aff"/>
<rect x="632.11" y="176.79" width="1.8" height="1.8" fill="#ff2020"/>
<rect x="630.65" y="164.22" width="1.8" height="1.8" fill="#ff2020"/>
<rect x="633.40" y="144.15" width="1.8" height="1.8" fill="#2a2aff"/>
<rect x="632.04" y="179.95" width="1.8" height="1.8" fill="#ff2020"/>
<rect x="635.97" y="161.24" width="1.8" height="1.8" fill="#ff2020"/>
<rect x="634.27" y="171.57" width="1.8" height="1.8" fill="#2a2aff"/>
<rect x="634.81" y="161.79" width="1.8" height="1.8" fill="#ff2020"/>
<rect x="631.33" y="170.89" width="1.8" height="1.8" fill="#ff2020"/>
<rect x="631.11" y="153.22" width="1.8" height="1.8" fill="#ff2020"/>
<rect x="633.33" y="176.22" width="1.8" height="1.8" fill="#2a2aff"/>
<rect x="629.28" y="172.85" width="1.8" height="1.8" fill="#ff2020"/>
<rect x="629.63" y="160.35" width="1.8" height="1.8" fill="#ff2020"/>
<rect x="636.14" y="141.78" width="1.8" height="1.8" fill="#ff2020"/>
<rect x="631.64" y="180.42" width="1.8" height="1.8" fill="#ff2020"/>
<rect x="632.09" y="179.05" width="1.8" height="1.8" fill="#2a2aff"/>
<rect x="626.94" y="151.25" width="1.8" height="1.8" fill="#ff2020"/>
<rect x="634.29" y="163.81" width="1.8" height="1.8" fill="#ff2020"/>
<rect x="629.15" y="176.76" width="1.8" height="1.8" fill="#ff2020"/>
<rect x="629.72" y="167.36" width="1.8" height="1.8" fill="#ff2020"/>
<rect x="629.70" y="182.10" width="1.8" height="1.8" fill="#2a2aff"/>
<rect x="627.57" y="177.12" width="1.8" height="1.8" fill="#2a2aff"/>
<rect x="633.90" y="178.76" width="1.8" height="1.8" fill="#ff2020"/>
<rect x="630.42" y="170.96" width="1.8" height="1.8" fill="#2a2aff"/>
<rect x="626.66" y="149.27" width="1.8" height="1.8" fill="#2a2aff"/>
<rect x="629.06" y="140.29" width="1.8" height="1.8" fill="#ff2020"/>
<rect x="627.09" y="151.66" width="1.8" height="1.8" fill="#ff2020"/>
<rect x="630.96" y="186.91" width="1.8" height="1.8" fill="#ff2020"/>
<rect x="630.44" y="177.62" width="1.8" height="1.8" fill="#ff2020"/>
<rect x="635.20" y="148.81" width="1.8" height="1.8" fill="#ff2020"/>
<rect x="630.29" y="167.10" width="1.8" height="1.8" fill="#ff2020"/>
<rect x="629.40" y="177.08" width="1.8" height="1.8" fill="#2a2aff"/>
<rect x="634.09" y="179.69" width="1.8" height="1.8" fill="#ff2020"/>
<rect x="629.49" y="179.38" width="1.8" height="1.8" fill="#ff2020"/>
<rect x="626.76" y="158.08" width="1.8" height="1.8" fill="#2a2aff"/>
<rect x="632.00" y="167.41" width="1.8" height="1.8" fill="#ff2020"/>
<rect x="635.07" y="157.45" width="1.8" height="1.8" fill="#ff2020"/>
<rect x="630.02" y="184.97" width="1.8" height="1.8" fill="#ff2020"/>
<rect x="631.46" y="189.36" width="1.8" height="1.8" fill="#ff2020"/>
<rect x="628.77" y="170.28" width="1.8" height="1.8" fill="#2a2aff"/>
<rect x="627.80" y="169.90" width="1.8" height="1.8" fill="#ff2020"/>
<rect x="633.69" y="177.93" width="1.8" height="1.8" fill="#ff2020"/>
<rect x="630.83" y="174.06" width="1.8" height="1.8" fill="#ff2020"/>
<rect x="628.59" y="151.77" width="1.8" height="1.8" fill="#2a2aff"/>
<rect x="630.20" y="176.92" width="1.8" height="1.8" fill="#ff2020"/>
<rect x="626.97" y="149.08" width="1.8" height="1.8" fill="#ff2020"/>
<rect x="627.86" y="164.16" width="1.8" height="1.8" fill="#ff2020"/>
<rect x="629.74" y="179.11" width="1.8" height="1.8" fill="#ff2020"/>
<rect x="634.64" y="205.46" width="1.8" height="1.8" fill="#ff2020"/>
<rect x="629.18" y="177.10" width="1.8" height="1.8" fill="#ff2020"/>
<rect x="635.03" y="167.64" width="1.8" height="1.8" fill="#ff2020"/>
<rect x="631.08" y="193.96" width="1.8" height="1.8" fill="#2a2aff"/>
<rect x="627.44" y="151.21" width="1.8" height="1.8" fill="#2a2aff"/>
<rect x="633.63" y="176.44" width="1.8" height="1.8" fill="#ff2020"/>
<rect x="631.82" y="202.56" width="1.8" height="1.8" fill="#2a2aff"/>
<rect x="630.11" y="179.17" width="1.8" height="1.8" fill="#2a2aff"/>
<rect x="631.92" y="176.92" width="1.8" height="1.8" fill="#ff2020"/>
<rect x="628.38" y="169.14" width="1.8" height="1.8" fill="#ff2020"/>
<rect x="635.11" y="162.68" width="1.8" height="1.8" fill="#ff2020"/>
<rect x="632.47" y="182.43" width="1.8" height="1.8" fill="#ff2020"/>
<rect x="632.44" y="159.12" width="1.8" height="1.8" fill="#ff2020"/>
<rect x="630.06" y="146.16" width="1.8" height="1.8" fill="#2a2aff"/>
<rect x="631.79" y="147.42" width="1.8" height="1.8" fill="#2a2aff"/>
<rect x="628.11" y="155.08" width="1.8" height="1.8" fill="#ff2020"/>
<rect x="628.55" y="139.95" width="1.8" height="1.8" fill="#2a2aff"/>
<rect x="631.60" y="201.68" width="1.8" height="1.8" fill="#ff2020"/>
<rect x="631.38" y="148.46" width="1.8" height="1.8" fill="#2a2aff"/>
<rect x="629.13" y="201.33" width="1.8" height="1.8" fill="#ff2020"/>
<rect x="627.21" y="153.95" width="1.8" height="1.8" fill="#ff2020"/>
<rect x="628.32" y="176.18" width="1.8" height="1.8" fill="#ff2020"/>
<rect x="630.78" y="156.95" width="1.8" height="1.8" fill="#2a2aff"/>
<rect x="634.97" y="157.26" width="1.8" height="1.8" fill="#ff2020"/>
<rect x="631.80" y="150.34" width="1.8" height="1.8" fill="#ff2020"/>
<rect x="631.55" y="153.25" width="1.8" height="1.8" fill="#2a2aff"/>
<rect x="628.70" y="156.37" width="1.8" height="1.8" fill="#ff2020"/>
<rect x="629.04" y="205.50" width="1.8" height="1.8" fill="#ff2020"/>
<rect x="626.49" y="148.49" width="1.8" height="1.8" fill="#ff2020"/>
<rect x="628.62" y="174.38" width="1.8" height="1.8" fill="#ff2020"/>
<rect x="628.29" y="177.38" width="1.8" height="1.8" fill="#2a2aff"/>
<rect x="627.41" y="152.28" width="1.8" height="1.8" fill="#2a2aff"/>
<rect x="630.76" y="179.87" width="1.8" height="1.8" fill="#2a2aff"/>
<rect x="632.97" y="152.90" width="1.8" height="1.8" fill="#ff2020"/>
<rect x="627.27" y="152.65" width="1.8" height="1.8" fill="#ff2020"/>
<rect x="633.21" y="166.44" width="1.8" height="1.8" fill="#2a2aff"/>
<rect x="630.64" y="195.51" width="1.8" height="1.8" fill="#ff2020"/>
<rect x="634.11" y="171.03" width="1.8" height="1.8" fill="#2a2aff"/>
<rect x="635.36" y="151.57" width="1.8" height="1.8" fill="#ff2020"/>
<rect x="630.51" y="150.05" width="1.8" height="1.8" fill="#ff2020"/>
<rect x="631.33" y="168.97" width="1.8" height="1.8" fill="#2a2aff"/>
<rect x="631.12" y="197.58" width="1.8" height="1.8" fill="#ff2020"/>
<rect x="631.27" y="173.49" width="1.8" height="1.8" fill="#ff2020"/>
<rect x="628.86" y="140.49" width="1.8" height="1.8" fill="#2a2aff"/>
<rect x="628.55" y="145.56" width="1.8" height="1.8" fill="#2a2aff"/>
<rect x="631.35" y="179.26" width="1.8" height="1.8" fill="#ff2020"/>
<rect x="631.09" y="172.17" width="1.8" height="1.8" fill="#2a2aff"/>
<rect x="630.95" y="147.28" width="1.8" height="1.8" fill="#2a2aff"/>
<rect x="633.37" y="178.75" width="1.8" height="1.8" fill="#2a2aff"/>
<rect x="632.65" y="177.48" width="1.8" height="1.8" fill="#2a2aff"/>
<rect x="629.02" y="194.44" width="1.8" height="1.8" fill="#ff2020"/>
<rect x="630.21" y="174.32" width="1.8" height="1.8" fill="#ff2020"/>
<rect x="630.05" y="155.21" width="1.8" height="1.8" fill="#ff2020"/>
<rect x="406.0" y="14.4" width="265.5" height="194.4" fill="none" stroke="#3a3a3a" stroke-width="1.4"/>
<line x1="402.20" y1="208.80" x2="406.00" y2="208.80" stroke="#3a3a3a" stroke-width="1.3" />
<line x1="668.50" y1="208.80" x2="671.50" y2="208.80" stroke="#3a3a3a" stroke-width="1.1" />
<text x="392.19" y="213.10" font-size="12.6" fill="#000"  textLength="7.50" lengthAdjust="spacingAndGlyphs">0</text>
<line x1="402.20" y1="176.40" x2="406.00" y2="176.40" stroke="#3a3a3a" stroke-width="1.3" />
<line x1="668.50" y1="176.40" x2="671.50" y2="176.40" stroke="#3a3a3a" stroke-width="1.1" />
<text x="392.32" y="180.70" font-size="12.6" fill="#000"  textLength="7.50" lengthAdjust="spacingAndGlyphs">1</text>
<line x1="402.20" y1="144.00" x2="406.00" y2="144.00" stroke="#3a3a3a" stroke-width="1.3" />
<line x1="668.50" y1="144.00" x2="671.50" y2="144.00" stroke="#3a3a3a" stroke-width="1.1" />
<text x="392.39" y="148.30" font-size="12.6" fill="#000"  textLength="7.50" lengthAdjust="spacingAndGlyphs">2</text>
<line x1="402.20" y1="111.60" x2="406.00" y2="111.60" stroke="#3a3a3a" stroke-width="1.3" />
<line x1="668.50" y1="111.60" x2="671.50" y2="111.60" stroke="#3a3a3a" stroke-width="1.1" />
<text x="392.26" y="115.90" font-size="12.6" fill="#000"  textLength="7.50" lengthAdjust="spacingAndGlyphs">3</text>
<line x1="402.20" y1="79.20" x2="406.00" y2="79.20" stroke="#3a3a3a" stroke-width="1.3" />
<line x1="668.50" y1="79.20" x2="671.50" y2="79.20" stroke="#3a3a3a" stroke-width="1.1" />
<text x="392.12" y="83.50" font-size="12.6" fill="#000"  textLength="7.50" lengthAdjust="spacingAndGlyphs">4</text>
<line x1="402.20" y1="46.80" x2="406.00" y2="46.80" stroke="#3a3a3a" stroke-width="1.3" />
<line x1="668.50" y1="46.80" x2="671.50" y2="46.80" stroke="#3a3a3a" stroke-width="1.1" />
<text x="392.26" y="51.10" font-size="12.6" fill="#000"  textLength="7.50" lengthAdjust="spacingAndGlyphs">5</text>
<line x1="402.20" y1="14.40" x2="406.00" y2="14.40" stroke="#3a3a3a" stroke-width="1.3" />
<line x1="668.50" y1="14.40" x2="671.50" y2="14.40" stroke="#3a3a3a" stroke-width="1.1" />
<text x="392.26" y="18.70" font-size="12.6" fill="#000"  textLength="7.50" lengthAdjust="spacingAndGlyphs">6</text>
<line x1="404.00" y1="192.60" x2="406.00" y2="192.60" stroke="#3a3a3a" stroke-width="1.1" />
<line x1="669.00" y1="192.60" x2="671.50" y2="192.60" stroke="#3a3a3a" stroke-width="1.1" />
<line x1="404.00" y1="160.20" x2="406.00" y2="160.20" stroke="#3a3a3a" stroke-width="1.1" />
<line x1="669.00" y1="160.20" x2="671.50" y2="160.20" stroke="#3a3a3a" stroke-width="1.1" />
<line x1="404.00" y1="127.80" x2="406.00" y2="127.80" stroke="#3a3a3a" stroke-width="1.1" />
<line x1="669.00" y1="127.80" x2="671.50" y2="127.80" stroke="#3a3a3a" stroke-width="1.1" />
<line x1="404.00" y1="95.40" x2="406.00" y2="95.40" stroke="#3a3a3a" stroke-width="1.1" />
<line x1="669.00" y1="95.40" x2="671.50" y2="95.40" stroke="#3a3a3a" stroke-width="1.1" />
<line x1="404.00" y1="63.00" x2="406.00" y2="63.00" stroke="#3a3a3a" stroke-width="1.1" />
<line x1="669.00" y1="63.00" x2="671.50" y2="63.00" stroke="#3a3a3a" stroke-width="1.1" />
<line x1="404.00" y1="30.60" x2="406.00" y2="30.60" stroke="#3a3a3a" stroke-width="1.1" />
<line x1="669.00" y1="30.60" x2="671.50" y2="30.60" stroke="#3a3a3a" stroke-width="1.1" />
<line x1="433.80" y1="208.80" x2="433.80" y2="212.80" stroke="#3a3a3a" stroke-width="1.2" />
<line x1="503.70" y1="208.80" x2="503.70" y2="211.30" stroke="#3a3a3a" stroke-width="1.2" />
<line x1="573.60" y1="208.80" x2="573.60" y2="212.80" stroke="#3a3a3a" stroke-width="1.2" />
<line x1="643.50" y1="208.80" x2="643.50" y2="211.30" stroke="#3a3a3a" stroke-width="1.2" />
<circle cx="423.30" cy="163.00" r="9.1" fill="#c0c0c0" stroke="#111" stroke-width="1.7"/>
<text x="418.19" y="168.24" font-size="15.2" fill="#000" stroke="#111" stroke-width="0.3" textLength="9.43" lengthAdjust="spacingAndGlyphs">B</text>
<circle cx="508.70" cy="162.50" r="9.1" fill="#c0c0c0" stroke="#111" stroke-width="1.7"/>
<text x="503.80" y="167.74" font-size="15.2" fill="#000" stroke="#111" stroke-width="0.3" textLength="9.43" lengthAdjust="spacingAndGlyphs">A</text>
<circle cx="602.30" cy="162.50" r="9.1" fill="#c0c0c0" stroke="#111" stroke-width="1.7"/>
<text x="596.91" y="167.74" font-size="15.2" fill="#000" stroke="#111" stroke-width="0.3" textLength="10.21" lengthAdjust="spacingAndGlyphs">C</text>
<line x1="437.00" y1="217.40" x2="500.50" y2="217.40" stroke="#111" stroke-width="1.2" />
<polygon points="433.8,217.4 440.5,214.9 439.3,217.4 440.5,219.9" fill="#111"/>
<polygon points="503.7,217.4 497,214.9 498.2,217.4 497,219.9" fill="#111"/>
<text x="454.72" y="230.40" font-size="13.2" fill="#000"  textLength="33.37" lengthAdjust="spacingAndGlyphs">25ms</text>
<text x="533.99" y="233.90" font-size="18" fill="#000"  textLength="5.67" lengthAdjust="spacingAndGlyphs">t</text>
<text transform="translate(376.70,158.42) rotate(-90)" x="0" y="0" font-size="16.6" fill="#000" textLength="93.45" lengthAdjust="spacingAndGlyphs">log(IPL) [µs]</text>
<text x="32.78" y="248.90" font-size="22.5" fill="#000" stroke="#000" stroke-width="0.35" textLength="10.23" lengthAdjust="spacingAndGlyphs">c</text>
<polygon points="62.30,456.80 62.30,275.30 64.38,275.30 64.38,326.00 66.45,326.00 66.45,342.50 68.52,342.50 68.52,358.60 70.59,358.60 70.59,377.50 72.66,377.50 72.66,391.50 74.72,391.50 74.72,403.50 76.80,403.50 76.80,411.50 78.87,411.50 78.87,417.20 80.94,417.20 80.94,420.90 83.00,420.90 83.00,425.70 85.08,425.70 85.08,430.00 87.14,430.00 87.14,434.00 89.22,434.00 89.22,435.50 91.28,435.50 91.28,436.50 93.35,436.50 93.35,437.50 95.42,437.50 95.42,440.00 97.50,440.00 97.50,441.50 99.56,441.50 99.56,442.60 101.63,442.60 101.63,444.00 103.70,444.00 103.70,445.82 105.78,445.82 105.78,447.05 107.84,447.05 107.84,448.02 109.91,448.02 109.91,448.00 111.98,448.00 111.98,449.31 114.06,449.31 114.06,449.86 116.12,449.86 116.12,449.84 118.19,449.84 118.19,450.39 120.27,450.39 120.27,450.18 122.34,450.18 122.34,450.99 124.41,450.99 124.41,451.44 126.47,451.44 126.47,451.22 128.55,451.22 128.55,451.61 130.62,451.61 130.62,452.84 132.69,452.84 132.69,452.85 134.75,452.85 134.75,453.28 136.82,453.28 136.82,453.16 138.89,453.16 138.89,453.55 140.97,453.55 140.97,453.57 143.03,453.57 143.03,453.75 145.10,453.75 145.10,453.25 147.18,453.25 147.18,453.91 149.25,453.91 149.25,453.67 151.31,453.67 151.31,454.06 153.38,454.06 153.38,453.79 155.45,453.79 155.45,454.07 157.52,454.07 157.52,454.43 159.59,454.43 159.59,454.25 161.66,454.25 161.66,454.01 163.74,454.01 163.74,454.28 165.81,454.28 165.81,454.27 167.88,454.27 167.88,454.74 169.94,454.74 169.94,454.27 172.01,454.27 172.01,454.34 174.08,454.34 174.08,454.65 176.15,454.65 176.15,454.25 178.22,454.25 178.22,454.66 180.29,454.66 180.29,454.98 182.37,454.98 182.37,454.65 184.44,454.65 184.44,454.49 186.50,454.49 186.50,454.67 188.57,454.67 188.57,454.75 190.64,454.75 190.64,454.46 192.71,454.46 192.71,454.45 194.78,454.45 194.78,454.48 196.86,454.48 196.86,454.63 198.93,454.63 198.93,454.73 201.00,454.73 201.00,454.66 203.06,454.66 203.06,454.64 205.13,454.64 205.13,454.53 207.20,454.53 207.20,454.92 209.27,454.92 209.27,455.17 211.34,455.17 211.34,455.00 213.41,455.00 213.41,454.98 215.49,454.98 215.49,455.06 217.56,455.06 217.56,454.71 219.62,454.71 219.62,455.13 221.69,455.13 221.69,454.94 223.76,454.94 223.76,455.02 225.83,455.02 225.83,455.08 227.90,455.08 227.90,454.98 229.97,454.98 229.97,454.87 232.05,454.87 232.05,454.82 234.12,454.82 234.12,454.82 236.19,454.82 236.19,455.06 238.25,455.06 238.25,454.97 240.32,454.97 240.32,455.15 242.39,455.15 242.39,454.70 244.46,454.70 244.46,454.98 246.53,454.98 246.53,455.40 248.60,455.40 248.60,454.90 250.68,454.90 250.68,455.16 252.75,455.16 252.75,455.12 254.81,455.12 254.81,454.96 256.88,454.96 256.88,455.52 258.95,455.52 258.95,454.98 261.02,454.98 261.02,455.36 263.09,455.36 263.09,454.88 265.16,454.88 265.16,454.81 267.24,454.81 267.24,455.46 269.31,455.46 269.31,455.12 271.38,455.12 271.38,454.82 273.44,454.82 273.44,455.09 275.51,455.09 275.51,455.14 277.58,455.14 277.58,455.38 279.65,455.38 279.65,454.88 281.72,454.88 281.72,454.98 283.79,454.98 283.79,455.58 285.87,455.58 285.87,455.41 287.94,455.41 287.94,454.94 290.00,454.94 290.00,455.10 292.07,455.10 292.07,455.11 294.14,455.11 294.14,455.38 296.21,455.38 296.21,455.34 298.28,455.34 298.28,455.53 300.35,455.53 300.35,455.51 302.43,455.51 302.43,455.27 304.50,455.27 304.50,455.46 306.50,455.46 306.50,456.80" fill="#ff0000"/>
<line x1="58.80" y1="262.60" x2="58.80" y2="456.80" stroke="#707070" stroke-width="1.5" />
<line x1="58.80" y1="456.80" x2="307.00" y2="456.80" stroke="#3a3a3a" stroke-width="1.4" />
<line x1="314.20" y1="456.80" x2="324.20" y2="456.80" stroke="#3a3a3a" stroke-width="1.4" />
<line x1="58.80" y1="262.60" x2="307.00" y2="262.60" stroke="#3a3a3a" stroke-width="1.3" />
<line x1="314.20" y1="262.60" x2="324.20" y2="262.60" stroke="#3a3a3a" stroke-width="1.3" />
<line x1="324.20" y1="262.60" x2="324.20" y2="456.80" stroke="#3a3a3a" stroke-width="1.4" />
<line x1="306.10" y1="266.80" x2="311.40" y2="258.40" stroke="#222" stroke-width="1.2" />
<line x1="310.50" y1="266.80" x2="315.80" y2="258.40" stroke="#222" stroke-width="1.2" />
<line x1="306.10" y1="461.00" x2="311.40" y2="452.60" stroke="#222" stroke-width="1.2" />
<line x1="310.50" y1="461.00" x2="315.80" y2="452.60" stroke="#222" stroke-width="1.2" />
<line x1="54.70" y1="456.80" x2="58.80" y2="456.80" stroke="#3a3a3a" stroke-width="1.2" />
<text x="44.69" y="461.10" font-size="12.3" fill="#000"  textLength="7.39" lengthAdjust="spacingAndGlyphs">0</text>
<line x1="54.70" y1="408.40" x2="58.80" y2="408.40" stroke="#3a3a3a" stroke-width="1.2" />
<text x="22.51" y="412.70" font-size="12.3" fill="#000"  textLength="29.55" lengthAdjust="spacingAndGlyphs">1000</text>
<line x1="54.70" y1="360.00" x2="58.80" y2="360.00" stroke="#3a3a3a" stroke-width="1.2" />
<text x="22.51" y="364.30" font-size="12.3" fill="#000"  textLength="29.55" lengthAdjust="spacingAndGlyphs">2000</text>
<line x1="54.70" y1="311.60" x2="58.80" y2="311.60" stroke="#3a3a3a" stroke-width="1.2" />
<text x="22.51" y="315.90" font-size="12.3" fill="#000"  textLength="29.55" lengthAdjust="spacingAndGlyphs">3000</text>
<line x1="54.70" y1="263.20" x2="58.80" y2="263.20" stroke="#3a3a3a" stroke-width="1.2" />
<text x="22.51" y="267.50" font-size="12.3" fill="#000"  textLength="29.55" lengthAdjust="spacingAndGlyphs">4000</text>
<line x1="56.80" y1="432.60" x2="58.80" y2="432.60" stroke="#3a3a3a" stroke-width="1.1" />
<line x1="56.80" y1="384.20" x2="58.80" y2="384.20" stroke="#3a3a3a" stroke-width="1.1" />
<line x1="56.80" y1="335.80" x2="58.80" y2="335.80" stroke="#3a3a3a" stroke-width="1.1" />
<line x1="56.80" y1="287.40" x2="58.80" y2="287.40" stroke="#3a3a3a" stroke-width="1.1" />
<line x1="59.20" y1="456.80" x2="59.20" y2="460.80" stroke="#3a3a3a" stroke-width="1.2" />
<text x="55.07" y="474.20" font-size="12.8" fill="#000"  textLength="7.62" lengthAdjust="spacingAndGlyphs">0</text>
<line x1="100.60" y1="456.80" x2="100.60" y2="460.80" stroke="#3a3a3a" stroke-width="1.2" />
<text x="92.60" y="474.20" font-size="12.8" fill="#000"  textLength="15.23" lengthAdjust="spacingAndGlyphs">20</text>
<line x1="142.00" y1="456.80" x2="142.00" y2="460.80" stroke="#3a3a3a" stroke-width="1.2" />
<text x="134.20" y="474.20" font-size="12.8" fill="#000"  textLength="15.23" lengthAdjust="spacingAndGlyphs">40</text>
<line x1="183.40" y1="456.80" x2="183.40" y2="460.80" stroke="#3a3a3a" stroke-width="1.2" />
<text x="175.40" y="474.20" font-size="12.8" fill="#000"  textLength="15.23" lengthAdjust="spacingAndGlyphs">60</text>
<line x1="224.80" y1="456.80" x2="224.80" y2="460.80" stroke="#3a3a3a" stroke-width="1.2" />
<text x="216.83" y="474.20" font-size="12.8" fill="#000"  textLength="15.23" lengthAdjust="spacingAndGlyphs">80</text>
<line x1="266.20" y1="456.80" x2="266.20" y2="460.80" stroke="#3a3a3a" stroke-width="1.2" />
<text x="254.22" y="474.20" font-size="12.8" fill="#000"  textLength="22.85" lengthAdjust="spacingAndGlyphs">100</text>
<line x1="79.90" y1="456.80" x2="79.90" y2="459.30" stroke="#3a3a3a" stroke-width="1.1" />
<line x1="121.30" y1="456.80" x2="121.30" y2="459.30" stroke="#3a3a3a" stroke-width="1.1" />
<line x1="162.70" y1="456.80" x2="162.70" y2="459.30" stroke="#3a3a3a" stroke-width="1.1" />
<line x1="204.10" y1="456.80" x2="204.10" y2="459.30" stroke="#3a3a3a" stroke-width="1.1" />
<line x1="245.50" y1="456.80" x2="245.50" y2="459.30" stroke="#3a3a3a" stroke-width="1.1" />
<line x1="286.90" y1="456.80" x2="286.90" y2="459.30" stroke="#3a3a3a" stroke-width="1.1" />
<line x1="319.20" y1="456.80" x2="319.20" y2="460.80" stroke="#3a3a3a" stroke-width="1.2" />
<text x="303.53" y="474.20" font-size="12.8" fill="#000"  textLength="30.47" lengthAdjust="spacingAndGlyphs">3000</text>
<text x="124.79" y="494.50" font-size="16.3" fill="#000"  textLength="133.25" lengthAdjust="spacingAndGlyphs">photons per burst</text>
<text transform="translate(13.00,435.11) rotate(-90)" x="0" y="0" font-size="16.3" fill="#000" textLength="127.68" lengthAdjust="spacingAndGlyphs">number of bursts</text>
<line x1="67.50" y1="271.00" x2="67.50" y2="334.20" stroke="#111" stroke-width="1.2" />
<polygon points="67.50,340.20 65.10,333.20 67.50,334.00 69.90,333.20" fill="#111"/>
<circle cx="67.90" cy="262.40" r="9.1" fill="#c0c0c0" stroke="#111" stroke-width="1.7"/>
<text x="63.00" y="267.64" font-size="15.2" fill="#000" stroke="#111" stroke-width="0.3" textLength="9.43" lengthAdjust="spacingAndGlyphs">A</text>
<line x1="102.60" y1="404.50" x2="102.60" y2="435.80" stroke="#111" stroke-width="1.2" />
<polygon points="102.60,441.80 100.20,434.80 102.60,435.60 105.00,434.80" fill="#111"/>
<circle cx="102.60" cy="393.10" r="9.1" fill="#c0c0c0" stroke="#111" stroke-width="1.7"/>
<text x="97.49" y="398.34" font-size="15.2" fill="#000" stroke="#111" stroke-width="0.3" textLength="9.43" lengthAdjust="spacingAndGlyphs">B</text>
<line x1="225.10" y1="417.20" x2="225.10" y2="449.40" stroke="#111" stroke-width="1.2" />
<polygon points="225.10,455.40 222.70,448.40 225.10,449.20 227.50,448.40" fill="#111"/>
<circle cx="225.10" cy="406.00" r="9.1" fill="#c0c0c0" stroke="#111" stroke-width="1.7"/>
<text x="219.71" y="411.24" font-size="15.2" fill="#000" stroke="#111" stroke-width="0.3" textLength="10.21" lengthAdjust="spacingAndGlyphs">C</text>
<text x="361.91" y="248.30" font-size="20.5" fill="#000"  textLength="13.72" lengthAdjust="spacingAndGlyphs">d</text>
<rect x="542.3" y="302" width="111.4" height="42.7" fill="#fff" stroke="#222" stroke-width="1.1"/>
<line x1="543.70" y1="314.70" x2="574.00" y2="314.70" stroke="#ff0000" stroke-width="1.9" />
<line x1="543.70" y1="330.80" x2="574.00" y2="330.80" stroke="#0000ff" stroke-width="1.9" />
<text x="576.52" y="319.40" font-size="12.2" fill="#000"  textLength="70.88" lengthAdjust="spacingAndGlyphs">red channel</text>
<text x="576.53" y="334.90" font-size="12.2" fill="#000"  textLength="75.86" lengthAdjust="spacingAndGlyphs">blue channel</text>
<polyline points="410.80,385.40 411.15,382.91 411.51,380.38 411.86,377.87 412.22,375.40 412.57,372.97 412.93,370.58 413.28,368.24 413.64,365.95 413.99,363.71 414.34,361.52 414.70,359.38 415.05,357.28 415.41,355.24 416.29,350.33 417.18,345.70 418.07,341.35 418.95,337.25 419.84,333.41 420.72,329.79 421.61,326.40 422.50,323.22 423.38,320.23 424.27,317.43 425.15,314.81 426.04,312.34 426.93,310.04 427.81,307.88 428.70,305.85 429.58,303.95 430.47,302.18 431.36,300.52 432.24,298.96 433.13,297.50 434.01,296.14 434.90,294.86 435.79,293.67 436.67,292.55 437.56,291.51 438.44,290.53 439.33,289.61 440.22,288.76 441.10,287.96 441.99,287.21 442.87,286.51 443.76,285.86 444.65,285.25 445.53,284.68 446.42,284.14 447.30,283.65 448.19,283.18 449.08,282.74 449.96,282.34 450.85,281.96 451.73,281.60 452.62,281.27 453.51,280.96 454.39,280.67 455.28,280.40 456.16,280.15 457.05,279.91 457.94,279.69 458.82,279.48 459.71,279.29 460.59,279.11 461.48,278.94 462.37,278.79 463.25,278.64 464.14,278.50 465.02,278.38 465.91,278.26 466.80,278.15 467.68,278.04 468.57,277.95 469.45,277.86 470.34,277.77 471.23,277.69 472.11,277.62 473.00,277.55 473.88,277.49 474.77,277.43 475.66,277.37 476.54,277.32 477.43,277.27 478.31,277.23 479.20,277.18 480.09,277.15 480.97,277.11 481.86,277.07 482.74,277.04 483.63,277.01 484.52,276.98 485.40,276.96 486.29,276.93 487.17,276.91 488.06,276.89 488.95,276.87 489.83,276.85 490.72,276.84 491.60,276.82 492.49,276.80 493.38,276.79 494.26,276.78 495.15,276.77 496.03,276.75 496.92,276.74 497.81,276.73 498.69,276.73 499.58,276.72 504.01,276.68 508.44,276.66 512.87,276.64 517.30,276.63 521.73,276.62 526.16,276.61 530.59,276.61 535.02,276.61 539.45,276.60 543.88,276.60 548.31,276.60 552.74,276.60 557.17,276.60 561.60,276.60 566.03,276.60 570.46,276.60 574.89,276.60 579.32,276.60 583.75,276.60 588.18,276.60 592.61,276.60 597.04,276.60 601.47,276.60 605.90,276.60 610.33,276.60 614.76,276.60 619.19,276.60 623.62,276.60 628.05,276.60 632.48,276.60 636.91,276.60 641.34,276.60 645.77,276.60 650.20,276.60 654.63,276.60 659.06,276.60 663.49,276.60 667.92,276.60 672.35,276.60" fill="none" stroke="#ff0000" stroke-width="1.9" stroke-linejoin="round" stroke-linecap="round" />
<polyline points="410.80,355.90 411.15,352.07 411.51,348.81 411.86,345.82 412.22,343.02 412.57,340.40 412.93,337.91 413.28,335.56 413.64,333.32 413.99,331.18 414.34,329.15 414.70,327.20 415.05,325.34 415.41,323.56 416.29,319.43 417.18,315.71 418.07,312.35 418.95,309.31 419.84,306.55 420.72,304.04 421.61,301.76 422.50,299.68 423.38,297.78 424.27,296.05 425.15,294.47 426.04,293.02 426.93,291.70 427.81,290.49 428.70,289.38 429.58,288.36 430.47,287.42 431.36,286.57 432.24,285.78 433.13,285.06 434.01,284.40 434.90,283.79 435.79,283.23 436.67,282.71 437.56,282.24 438.44,281.81 439.33,281.40 440.22,281.03 441.10,280.69 441.99,280.38 442.87,280.09 443.76,279.83 444.65,279.58 445.53,279.35 446.42,279.15 447.30,278.95 448.19,278.78 449.08,278.61 449.96,278.46 450.85,278.32 451.73,278.19 452.62,278.07 453.51,277.96 454.39,277.86 455.28,277.77 456.16,277.68 457.05,277.60 457.94,277.53 458.82,277.46 459.71,277.39 460.59,277.34 461.48,277.28 462.37,277.23 463.25,277.18 464.14,277.14 465.02,277.10 465.91,277.07 466.80,277.03 467.68,277.00 468.57,276.97 469.45,276.94 470.34,276.92 471.23,276.90 472.11,276.87 473.00,276.85 473.88,276.84 474.77,276.82 475.66,276.80 476.54,276.79 477.43,276.77 478.31,276.76 479.20,276.75 480.09,276.74 480.97,276.73 481.86,276.72 482.74,276.71 483.63,276.70 484.52,276.70 485.40,276.69 486.29,276.68 487.17,276.68 488.06,276.67 488.95,276.67 489.83,276.66 490.72,276.66 491.60,276.65 492.49,276.65 493.38,276.65 494.26,276.64 495.15,276.64 496.03,276.64 496.92,276.63 497.81,276.63 498.69,276.63 499.58,276.63 504.01,276.62 508.44,276.61 512.87,276.61 517.30,276.61 521.73,276.60 526.16,276.60 530.59,276.60 535.02,276.60 539.45,276.60 543.88,276.60 548.31,276.60 552.74,276.60 557.17,276.60 561.60,276.60 566.03,276.60 570.46,276.60 574.89,276.60 579.32,276.60 583.75,276.60 588.18,276.60 592.61,276.60 597.04,276.60 601.47,276.60 605.90,276.60 610.33,276.60 614.76,276.60 619.19,276.60 623.62,276.60 628.05,276.60 632.48,276.60 636.91,276.60 641.34,276.60 645.77,276.60 650.20,276.60 654.63,276.60 659.06,276.60 663.49,276.60 667.92,276.60 672.35,276.60" fill="none" stroke="#0000ff" stroke-width="1.9" stroke-linejoin="round" stroke-linecap="round" />
<rect x="410.8" y="259.4" width="265.8" height="194.40000000000003" fill="none" stroke="#3a3a3a" stroke-width="1.3"/>
<line x1="406.80" y1="453.80" x2="410.80" y2="453.80" stroke="#3a3a3a" stroke-width="1.2" />
<line x1="673.10" y1="453.80" x2="676.60" y2="453.80" stroke="#3a3a3a" stroke-width="1.1" />
<text x="385.33" y="458.20" font-size="12.6" fill="#000"  textLength="18.74" lengthAdjust="spacingAndGlyphs">0.0</text>
<line x1="406.80" y1="418.36" x2="410.80" y2="418.36" stroke="#3a3a3a" stroke-width="1.2" />
<line x1="673.10" y1="418.36" x2="676.60" y2="418.36" stroke="#3a3a3a" stroke-width="1.1" />
<text x="385.53" y="422.76" font-size="12.6" fill="#000"  textLength="18.74" lengthAdjust="spacingAndGlyphs">0.2</text>
<line x1="406.80" y1="382.92" x2="410.80" y2="382.92" stroke="#3a3a3a" stroke-width="1.2" />
<line x1="673.10" y1="382.92" x2="676.60" y2="382.92" stroke="#3a3a3a" stroke-width="1.1" />
<text x="385.26" y="387.32" font-size="12.6" fill="#000"  textLength="18.74" lengthAdjust="spacingAndGlyphs">0.4</text>
<line x1="406.80" y1="347.48" x2="410.80" y2="347.48" stroke="#3a3a3a" stroke-width="1.2" />
<line x1="673.10" y1="347.48" x2="676.60" y2="347.48" stroke="#3a3a3a" stroke-width="1.1" />
<text x="385.40" y="351.88" font-size="12.6" fill="#000"  textLength="18.74" lengthAdjust="spacingAndGlyphs">0.6</text>
<line x1="406.80" y1="312.04" x2="410.80" y2="312.04" stroke="#3a3a3a" stroke-width="1.2" />
<line x1="673.10" y1="312.04" x2="676.60" y2="312.04" stroke="#3a3a3a" stroke-width="1.1" />
<text x="385.40" y="316.44" font-size="12.6" fill="#000"  textLength="18.74" lengthAdjust="spacingAndGlyphs">0.8</text>
<line x1="406.80" y1="276.60" x2="410.80" y2="276.60" stroke="#3a3a3a" stroke-width="1.2" />
<line x1="673.10" y1="276.60" x2="676.60" y2="276.60" stroke="#3a3a3a" stroke-width="1.1" />
<text x="385.33" y="281.00" font-size="12.6" fill="#000"  textLength="18.74" lengthAdjust="spacingAndGlyphs">1.0</text>
<line x1="408.50" y1="436.08" x2="410.80" y2="436.08" stroke="#3a3a3a" stroke-width="1.1" />
<line x1="674.30" y1="436.08" x2="676.60" y2="436.08" stroke="#3a3a3a" stroke-width="1.1" />
<line x1="408.50" y1="400.64" x2="410.80" y2="400.64" stroke="#3a3a3a" stroke-width="1.1" />
<line x1="674.30" y1="400.64" x2="676.60" y2="400.64" stroke="#3a3a3a" stroke-width="1.1" />
<line x1="408.50" y1="365.20" x2="410.80" y2="365.20" stroke="#3a3a3a" stroke-width="1.1" />
<line x1="674.30" y1="365.20" x2="676.60" y2="365.20" stroke="#3a3a3a" stroke-width="1.1" />
<line x1="408.50" y1="329.76" x2="410.80" y2="329.76" stroke="#3a3a3a" stroke-width="1.1" />
<line x1="674.30" y1="329.76" x2="676.60" y2="329.76" stroke="#3a3a3a" stroke-width="1.1" />
<line x1="408.50" y1="294.32" x2="410.80" y2="294.32" stroke="#3a3a3a" stroke-width="1.1" />
<line x1="674.30" y1="294.32" x2="676.60" y2="294.32" stroke="#3a3a3a" stroke-width="1.1" />
<line x1="410.80" y1="453.80" x2="410.80" y2="457.80" stroke="#3a3a3a" stroke-width="1.2" />
<text x="401.25" y="471.70" font-size="12.8" fill="#000"  textLength="19.04" lengthAdjust="spacingAndGlyphs">0.0</text>
<line x1="455.10" y1="453.80" x2="455.10" y2="457.80" stroke="#3a3a3a" stroke-width="1.2" />
<text x="445.58" y="471.70" font-size="12.8" fill="#000"  textLength="19.04" lengthAdjust="spacingAndGlyphs">0.5</text>
<line x1="499.40" y1="453.80" x2="499.40" y2="457.80" stroke="#3a3a3a" stroke-width="1.2" />
<text x="489.61" y="471.70" font-size="12.8" fill="#000"  textLength="19.04" lengthAdjust="spacingAndGlyphs">1.0</text>
<line x1="543.70" y1="453.80" x2="543.70" y2="457.80" stroke="#3a3a3a" stroke-width="1.2" />
<text x="533.94" y="471.70" font-size="12.8" fill="#000"  textLength="19.04" lengthAdjust="spacingAndGlyphs">1.5</text>
<line x1="588.00" y1="453.80" x2="588.00" y2="457.80" stroke="#3a3a3a" stroke-width="1.2" />
<text x="578.38" y="471.70" font-size="12.8" fill="#000"  textLength="19.04" lengthAdjust="spacingAndGlyphs">2.0</text>
<line x1="632.30" y1="453.80" x2="632.30" y2="457.80" stroke="#3a3a3a" stroke-width="1.2" />
<text x="622.71" y="471.70" font-size="12.8" fill="#000"  textLength="19.04" lengthAdjust="spacingAndGlyphs">2.5</text>
<line x1="676.60" y1="453.80" x2="676.60" y2="457.80" stroke="#3a3a3a" stroke-width="1.2" />
<text x="667.05" y="471.70" font-size="12.8" fill="#000"  textLength="19.04" lengthAdjust="spacingAndGlyphs">3.0</text>
<line x1="432.95" y1="453.80" x2="432.95" y2="456.10" stroke="#3a3a3a" stroke-width="1.1" />
<line x1="477.25" y1="453.80" x2="477.25" y2="456.10" stroke="#3a3a3a" stroke-width="1.1" />
<line x1="521.55" y1="453.80" x2="521.55" y2="456.10" stroke="#3a3a3a" stroke-width="1.1" />
<line x1="565.85" y1="453.80" x2="565.85" y2="456.10" stroke="#3a3a3a" stroke-width="1.1" />
<line x1="610.15" y1="453.80" x2="610.15" y2="456.10" stroke="#3a3a3a" stroke-width="1.1" />
<line x1="654.45" y1="453.80" x2="654.45" y2="456.10" stroke="#3a3a3a" stroke-width="1.1" />
<text x="533.43" y="488.70" font-size="17.5" fill="#000"  textLength="9.16" lengthAdjust="spacingAndGlyphs">n</text>
<text x="542.68" y="491.10" font-size="11.2" fill="#000"  textLength="11.27" lengthAdjust="spacingAndGlyphs">br</text>
<text transform="translate(376.00,461.16) rotate(-90)" x="0" y="0" font-size="17.0" fill="#000" textLength="189.98" lengthAdjust="spacingAndGlyphs">fraction coincident bursts</text>
<line x1="439.50" y1="339.00" x2="426.30" y2="339.00" stroke="#111" stroke-width="1.3" />
<polygon points="420.30,339.00 427.30,336.60 426.50,339.00 427.30,341.40" fill="#111"/>
<circle cx="448.30" cy="342.50" r="9.1" fill="#c0c0c0" stroke="#111" stroke-width="1.7"/>
<text x="443.19" y="347.74" font-size="15.2" fill="#000" stroke="#111" stroke-width="0.3" textLength="9.43" lengthAdjust="spacingAndGlyphs">B</text>
<line x1="430.00" y1="379.20" x2="419.20" y2="379.20" stroke="#111" stroke-width="1.2" />
<polygon points="413.20,379.20 420.20,376.80 419.40,379.20 420.20,381.60" fill="#111"/>
<circle cx="439.40" cy="379.20" r="9.1" fill="#c0c0c0" stroke="#111" stroke-width="1.7"/>
<text x="434.50" y="384.44" font-size="15.2" fill="#000" stroke="#111" stroke-width="0.3" textLength="9.43" lengthAdjust="spacingAndGlyphs">A</text>
<line x1="450.90" y1="296.50" x2="450.90" y2="288.60" stroke="#111" stroke-width="1.3" />
<polygon points="450.90,282.60 453.30,289.60 450.90,288.80 448.50,289.60" fill="#111"/>
<circle cx="454.70" cy="305.00" r="9.1" fill="#c0c0c0" stroke="#111" stroke-width="1.7"/>
<text x="449.31" y="310.24" font-size="15.2" fill="#000" stroke="#111" stroke-width="0.3" textLength="10.21" lengthAdjust="spacingAndGlyphs">C</text>
</svg>
</body></html>
